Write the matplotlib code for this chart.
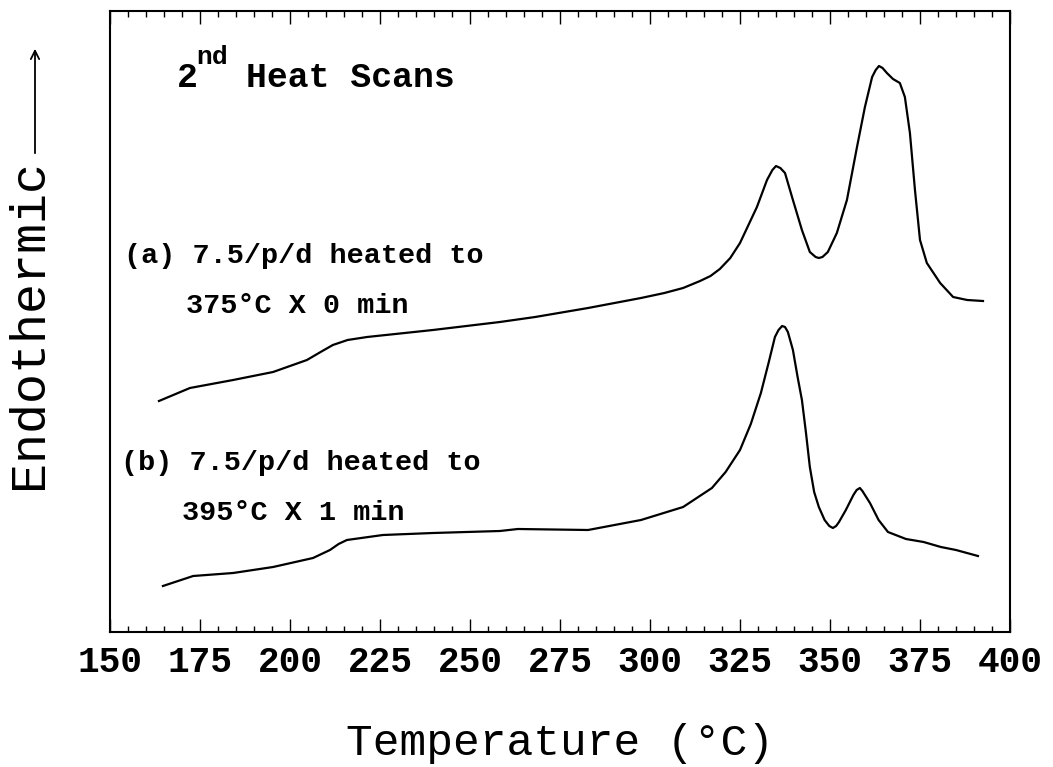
import numpy as np
import matplotlib.pyplot as plt
from matplotlib.patches import FancyArrowPatch
from matplotlib.ticker import MultipleLocator

W, H = 1053, 767
FONT = "Liberation Mono"
WEIGHT = "bold"

# (a) 7.5/p/d heated to 375 C x 0 min  -- temperature (C), signal (arb. units)
temp_a = [163.6, 172.2, 184.2, 195.3, 204.7, 208.5, 211.9, 216.0, 221.4, 239.7,
          258.3, 268.1, 282.8, 297.5, 304.0, 309.2, 313.9, 316.8, 319.4, 322.3,
          325.0, 329.7, 332.5, 334.0, 335.0, 336.2, 337.5, 339.7, 342.2, 344.4,
          346.0, 346.9, 347.9, 349.4, 351.9, 354.7, 357.5, 359.7, 361.7, 362.7,
          363.6, 364.6, 365.8, 367.5, 369.4, 370.8, 372.2, 373.6, 375.0, 376.9,
          380.6, 384.2, 388.1, 392.5]
heat_a = [231, 244, 252, 260, 272, 280, 287, 292, 295, 302,
          310, 315, 324, 334, 339, 344, 351, 356, 363, 374,
          389, 425, 452, 462, 466, 464, 459, 432, 402, 380,
          375, 374, 375, 380, 399, 432, 485, 525, 555, 562,
          566, 564, 559, 553, 549, 535, 499, 442, 392, 369,
          349, 335, 332, 331]

# (b) 7.5/p/d heated to 395 C x 1 min
temp_b = [164.7, 173.1, 184.2, 195.3, 206.4, 211.1, 213.5, 215.8, 225.8, 239.7,
          258.3, 263.3, 282.8, 297.5, 309.2, 317.2, 321.0, 325.0, 328.0, 330.8,
          333.0, 334.7, 335.7, 336.7, 337.5, 338.3, 339.7, 341.0, 342.2, 343.3,
          344.4, 345.6, 346.9, 348.5, 349.8, 350.8, 351.7, 352.5, 354.4, 356.5,
          357.4, 358.3, 359.0, 359.7, 361.1, 363.5, 366.1, 371.1, 376.0, 380.8,
          385.0, 391.1]
heat_b = [46, 56, 59, 65, 74, 82, 88, 92, 97, 99,
          101, 103, 102, 112, 125, 144, 160, 182, 208, 239,
          270, 295, 302, 306, 305, 300, 282, 255, 232, 200,
          165, 140, 125, 112, 106, 104, 106, 110, 122, 137,
          142, 144, 141, 137, 129, 112, 100, 93, 90, 85,
          82, 76]

xticks = [150, 175, 200, 225, 250, 275, 300, 325, 350, 375, 400]


def px(x, y):
    # pixel position -> figure fraction
    return x / W, 1 - y / H


fig = plt.figure(figsize=(W / 100, H / 100), dpi=100)
ax = fig.add_axes([110 / W, 1 - 632 / H, 900 / W, 621 / H])

ax.plot(temp_a, heat_a, color="black", lw=1.6)
ax.plot(temp_b, heat_b, color="black", lw=1.6)

ax.set_xlim(150, 400)
ax.set_ylim(0, 621)
ax.set_xticks(xticks)
ax.xaxis.set_minor_locator(MultipleLocator(5))
ax.tick_params(axis="x", which="both", direction="in", top=True, bottom=True,
               labeltop=False, width=1.0)
ax.tick_params(axis="x", which="major", length=9.5, pad=9, labelsize=26)
ax.tick_params(axis="x", which="minor", length=4.5)
ax.tick_params(axis="y", left=False, labelleft=False)
for lab in ax.get_xticklabels():
    lab.set_fontfamily(FONT)
    lab.set_fontweight(WEIGHT)
for s in ax.spines.values():
    s.set_linewidth(1.5)

# axis titles
fig.text(*px(560, 755), "Temperature (°C)", fontfamily=FONT, fontsize=32,
         ha="center", va="baseline")
fig.text(*px(29, 324), "Endothermic", fontfamily=FONT, fontsize=36,
         rotation=90, ha="center", va="center")
fig.add_artist(FancyArrowPatch(
    px(35, 156), px(35, 46), transform=fig.transFigure,
    arrowstyle="->,head_length=6,head_width=3", lw=1.3, color="black"))

# annotations
fig.text(*px(177, 87), "2", fontfamily=FONT, fontsize=25, fontweight=WEIGHT,
         va="baseline")
fig.text(*px(196, 64), "nd", fontfamily=FONT, fontsize=19, fontweight=WEIGHT,
         va="baseline")
fig.text(*px(246, 87), "Heat Scans", fontfamily=FONT, fontsize=25,
         fontweight=WEIGHT, va="baseline")

fig.text(*px(124, 263), "(a) 7.5/p/d heated to", fontfamily=FONT, fontsize=20.5,
         fontweight=WEIGHT, va="baseline")
fig.text(*px(186, 313), "375°C X 0 min", fontfamily=FONT, fontsize=20.5,
         fontweight=WEIGHT, va="baseline")
fig.text(*px(121, 470), "(b) 7.5/p/d heated to", fontfamily=FONT, fontsize=20.5,
         fontweight=WEIGHT, va="baseline")
fig.text(*px(182, 520), "395°C X 1 min", fontfamily=FONT, fontsize=20.5,
         fontweight=WEIGHT, va="baseline")

fig.savefig("out.png", dpi=100)
